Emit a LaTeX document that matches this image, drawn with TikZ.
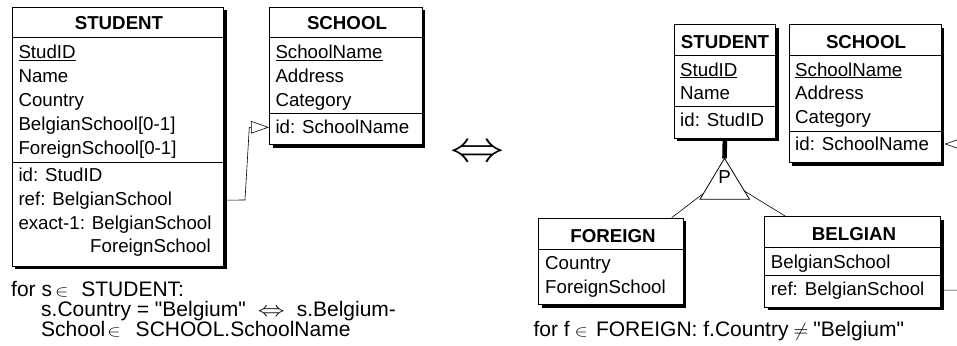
\documentclass[tikz,border=0pt]{standalone}
\usepackage{fontspec}
\setmainfont{Liberation Sans}[Ligatures=TeXOff]
\usetikzlibrary{arrows.meta,calc,shadows}

\newcommand\tblfont{\fontsize{18.7}{22}\selectfont}
\newcommand\notefont{\fontsize{21}{24}\selectfont}
% symbols set from the 10pt math fonts, then stretched
\newcommand\tenpt{\fontsize{10}{12}\selectfont}
\newcommand\insym{{\tenpt\scalebox{2.0}[1.6]{$\in$}}}
\newcommand\neqsym{{\tenpt\scalebox{1.9}[1.9]{$\neq$}}}
\newcommand\eqvsmall{{\tenpt\scalebox{2.7}[2.1]{$\Leftrightarrow$}}}
\newcommand\eqvbig{{\tenpt\scalebox{5.4}[4.3]{$\Leftrightarrow$}}}
% horizontal compartment rule inside a table, #2 below its top edge
\newcommand\hsep[2]{\draw[sepline] ($(#1.north west)+(0,#2)$) -- ($(#1.north east)+(0,#2)$);}

\begin{document}
\begin{tikzpicture}[x=1pt,y=-1pt,
  tbl/.style={draw, line width=0.8pt, fill=white, inner sep=0pt, anchor=north west,
    drop shadow={shadow xshift=3.3pt, shadow yshift=-3.3pt, fill=black, opacity=1}},
  sepline/.style={line width=0.6pt},
  ttl/.style={anchor=base, inner sep=0pt, font=\tblfont\bfseries},
  row/.style={anchor=base west, inner sep=0pt, font=\tblfont},
  note/.style={anchor=base west, inner sep=0pt, font=\notefont},
  conn/.style={line width=0.6pt},
  openarrow/.style={-{Triangle[open, length=18pt, width=12.5pt]}}]

\useasboundingbox (0,0) rectangle (957,345);
\fill[white] (0,0) rectangle (957,345);
\clip (0,0) rectangle (957,345);

% ---------- left schema ----------
\node[tbl, minimum width=211.3pt, minimum height=259pt] (stuL) at (11.7,6.7) {};
\hsep{stuL}{31}
\hsep{stuL}{155.3}
\node[ttl] (stuLt) at (119,30) {STUDENT};
\node[row] (stuL1) at (18.3,58.8) {\underline{StudID}};
\node[row] (stuL2) at (18.3,82.6) {Name};
\node[row] (stuL3) at (18.3,106.5) {Country};
\node[row] (stuL4) at (18.3,130.4) {BelgianSchool[0-1]};
\node[row] (stuL5) at (18.3,154.3) {ForeignSchool[0-1]};
\node[row] (stuLid) at (18.3,181) {id: StudID};
\node[row] (stuLref) at (18.3,205) {ref: BelgianSchool};
\node[row] (stuLex) at (18.3,229) {exact-1: BelgianSchool};
\node[row] (stuLex2) at (90,252.8) {ForeignSchool};

\node[tbl, minimum width=152.7pt, minimum height=137.3pt] (schL) at (269,6.7) {};
\hsep{schL}{31}
\hsep{schL}{106.3}
\node[ttl] (schLt) at (347,30) {SCHOOL};
\node[row] (schL1) at (275.3,58.8) {\underline{SchoolName}};
\node[row] (schL2) at (275.3,82.6) {Address};
\node[row] (schL3) at (275.3,106.5) {Category};
\node[row] (schLid) at (275.3,133) {id: SchoolName};

% reference from STUDENT to SCHOOL
\coordinate (lb1) at (245,200);
\coordinate (lb2) at (249.3,127.3);
\draw[conn, openarrow] (stuLref.center -| stuL.east) -- (lb1) -- (lb2) -- (lb2 -| schL.west);

% equivalence sign
\node[inner sep=0pt] (equiv) at (477.5,154) {\eqvbig};

% ---------- right schema ----------
\node[tbl, minimum width=101.6pt, minimum height=113.7pt] (stuR) at (673.7,24) {};
\hsep{stuR}{31}
\hsep{stuR}{82.7}
\node[ttl] (stuRt) at (725,48.3) {STUDENT};
\node[row] (stuR1) at (680,76) {\underline{StudID}};
\node[row] (stuR2) at (680,99.8) {Name};
\node[row] (stuRid) at (680,126) {id: StudID};

\node[tbl, minimum width=152pt, minimum height=138.3pt] (schR) at (788.7,24) {};
\hsep{schR}{31}
\hsep{schR}{107}
\node[ttl] (schRt) at (866,48.3) {SCHOOL};
\node[row] (schR1) at (795,76) {\underline{SchoolName}};
\node[row] (schR2) at (795,99.8) {Address};
\node[row] (schR3) at (795,123.6) {Category};
\node[row] (schRid) at (795,150) {id: SchoolName};

\node[tbl, minimum width=144.4pt, minimum height=86.6pt] (forR) at (538.3,217.7) {};
\hsep{forR}{31.6}
\node[ttl] (forRt) at (613,242.3) {FOREIGN};
\node[row] (forR1) at (545,269.3) {Country};
\node[row] (forR2) at (545,293.3) {ForeignSchool};

\node[tbl, minimum width=175.7pt, minimum height=90.7pt] (belR) at (764.3,216) {};
\hsep{belR}{31.7}
\hsep{belR}{59.7}
\node[ttl] (belRt) at (854,240) {BELGIAN};
\node[row] (belR1) at (770.7,268.3) {BelgianSchool};
\node[row] (belRref) at (770.7,295) {ref: BelgianSchool};

% partition (P) of STUDENT into FOREIGN and BELGIAN
\coordinate (apex) at (724.5,158.3);
\coordinate (isaL) at (700,199.3);
\coordinate (isaR) at (749.5,199.3);
\draw[line width=4.6pt] (stuR.south) -- (apex);
\draw[line width=0.8pt, fill=white] (apex) -- (isaL) -- (isaR) -- cycle;
\node[inner sep=0pt, anchor=base, font=\tblfont] (pmark) at (724.5,183.3) {P};
\coordinate (isaTL) at (703.6,193.3);
\coordinate (isaTR) at (744.4,191);
\draw[conn] (isaTL) -- ($(forR.north west)+(133.4,0)$);
\draw[conn] (isaTR) -- ($(belR.north west)+(20.7,0)$);

% reference from BELGIAN to SCHOOL
\coordinate (rb1) at (966,290);
\coordinate (rb2) at (966,144);
\draw[conn, openarrow] (belRref.center -| belR.east) -- (rb1) -- (rb2) -- ([xshift=3pt]rb2 -| schR.east);

% ---------- constraints ----------
\node[note] (c1) at (11,296) {for s\hspace{3pt}\insym\hspace{13pt}STUDENT:};
\node[note] (c2) at (41,316.5) {s.Country = "Belgium"\hspace{12pt}\eqvsmall\hspace{12pt}s.Belgium-};
\node[note] (c3) at (41,336) {School\hspace{2pt}\insym\hspace{15pt}SCHOOL.SchoolName};
\node[note] (c4) at (533.3,336.5) {for f\hspace{5pt}\insym\hspace{8pt}FOREIGN: f.Country\hspace{5pt}\neqsym\hspace{5pt}"Belgium"};
\end{tikzpicture}
\end{document}
